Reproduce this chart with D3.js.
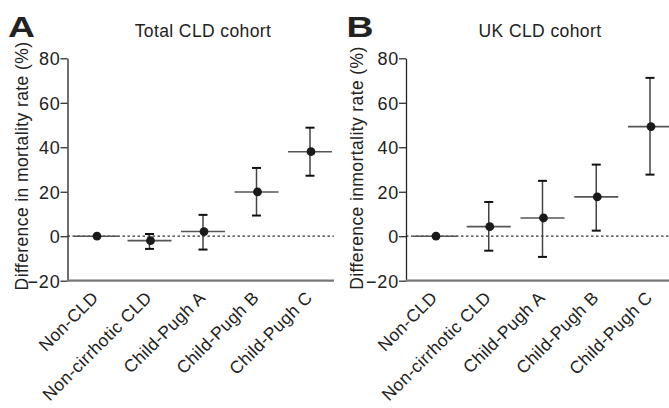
<!DOCTYPE html>
<html>
<head>
<meta charset="utf-8">
<script src="https://cdn.jsdelivr.net/npm/d3@7"></script>
<style>
  body { margin: 0; background: #fff; }
  text { font-family: 'Liberation Sans', Arial, Helvetica, sans-serif; fill: #222; }
</style>
</head>
<body>
<div id="chart"></div>
<script>
const categories = ['Non-CLD', 'Non-cirrhotic CLD', 'Child-Pugh A', 'Child-Pugh B', 'Child-Pugh C']
const yTicks = [-20, 0, 20, 40, 60, 80]

// Total CLD cohort
const totalMean = [0, -2.0, 2.1, 19.9, 38.0]
const totalLower = [null, -5.7, -6.0, 9.3, 27.2]
const totalUpper = [null, 1.0, 9.6, 30.7, 48.8]

// UK CLD cohort
const ukMean = [0, 4.3, 8.2, 17.7, 49.3]
const ukLower = [null, -6.5, -9.3, 2.5, 27.7]
const ukUpper = [null, 15.4, 24.9, 32.2, 71.2]

const width = 669
const height = 408

const svg = d3
  .select('#chart')
  .append('svg')
  .attr('width', width)
  .attr('height', height)

function drawPanel(p) {
  const g = svg.append('g')

  const yScale = d3.scaleLinear().domain([-20, 80]).range([280.7, 58.3])
  const xScale = d3.scalePoint().domain(categories).range([p.x0, p.x1])

  const rows = categories.map((c, i) => ({
    cat: c,
    mean: p.mean[i],
    lower: p.lower[i],
    upper: p.upper[i]
  }))

  // dotted zero line
  g.append('line')
    .attr('x1', p.axisX)
    .attr('x2', p.axisEnd)
    .attr('y1', yScale(0))
    .attr('y2', yScale(0))
    .attr('stroke', '#333')
    .attr('stroke-width', 1.2)
    .attr('stroke-dasharray', '2.5,2.5')

  // y axis
  const yAxis = g.append('g')
    .attr('transform', `translate(${p.axisX},0)`)
    .call(d3.axisLeft(yScale).tickValues(yTicks).tickSize(7).tickSizeOuter(0).tickPadding(0))
  yAxis.select('.domain').attr('stroke', '#222').attr('stroke-width', 1.3)
  yAxis.selectAll('.tick line').attr('stroke', '#222').attr('stroke-width', 1.2)
  yAxis.selectAll('.tick text')
    .attr('font-size', 18)
    .attr('letter-spacing', 0.8)
    .attr('fill', '#222')
    .attr('dy', '0.36em')

  // x axis
  const xAxis = g.append('g')
    .attr('transform', `translate(0,${yScale(-20)})`)
    .call(d3.axisBottom(xScale).tickSize(0))
  xAxis.select('.domain').remove()
  xAxis.append('line')
    .attr('x1', p.axisX)
    .attr('x2', p.axisEnd)
    .attr('stroke', '#777')
    .attr('stroke-width', 2.2)
  xAxis.selectAll('.tick text')
    .attr('font-size', 17.5)
    .attr('letter-spacing', 0.4)
    .attr('fill', '#222')
    .attr('x', 0)
    .attr('y', 0)
    .attr('dy', 0)
    .attr('text-anchor', 'end')
    .attr('transform', 'translate(3,18) rotate(-45)')

  // mean lines
  g.selectAll('.mean')
    .data(rows)
    .enter()
    .append('line')
    .attr('class', 'mean')
    .attr('x1', d => xScale(d.cat) - 22)
    .attr('x2', d => xScale(d.cat) + 22)
    .attr('y1', d => yScale(d.mean))
    .attr('y2', d => yScale(d.mean))
    .attr('stroke', '#555')
    .attr('stroke-width', 1.6)

  const bars = rows.filter(d => d.lower !== null)

  g.selectAll('.err')
    .data(bars)
    .enter()
    .append('line')
    .attr('class', 'err')
    .attr('x1', d => xScale(d.cat))
    .attr('x2', d => xScale(d.cat))
    .attr('y1', d => yScale(d.lower))
    .attr('y2', d => yScale(d.upper))
    .attr('stroke', '#444')
    .attr('stroke-width', 1.5)

  // caps
  bars.forEach(d => {
    [d.lower, d.upper].forEach(v => {
      g.append('line')
        .attr('x1', xScale(d.cat) - 4.5)
        .attr('x2', xScale(d.cat) + 4.5)
        .attr('y1', yScale(v))
        .attr('y2', yScale(v))
        .attr('stroke', '#111')
        .attr('stroke-width', 2)
    })
  })

  g.selectAll('.dot')
    .data(rows)
    .enter()
    .append('circle')
    .attr('class', 'dot')
    .attr('cx', d => xScale(d.cat) + 1)
    .attr('cy', d => yScale(d.mean))
    .attr('r', 4.4)
    .attr('fill', '#1a1a1a')

  // y label
  g.append('text')
    .text(p.yLabel)
    .attr('transform', `translate(${p.labelX},${p.labelY}) rotate(-90)`)
    .attr('text-anchor', 'middle')
    .attr('font-size', 17.5)
    .attr('letter-spacing', 0.4)

  // title
  g.append('text')
    .text(p.title)
    .attr('x', p.titleX)
    .attr('y', 36.7)
    .attr('text-anchor', 'middle')
    .attr('font-size', 17.5)
    .attr('letter-spacing', 0.4)

  // panel letter
  g.append('text')
    .text(p.letter)
    .attr('x', p.letterX)
    .attr('y', 36.7)
    .attr('font-size', 30)
    .attr('font-weight', 'bold')
    .attr('fill', '#111')
    .attr('textLength', 27)
    .attr('lengthAdjust', 'spacingAndGlyphs')
}

drawPanel({
  letter: 'A',
  letterX: 8,
  title: 'Total CLD cohort',
  titleX: 203,
  yLabel: 'Difference in mortality rate (%)',
  labelX: 28,
  labelY: 166,
  axisX: 67.5,
  axisEnd: 334,
  x0: 96,
  x1: 310,
  mean: totalMean,
  lower: totalLower,
  upper: totalUpper
})

drawPanel({
  letter: 'B',
  letterX: 346.5,
  title: 'UK CLD cohort',
  titleX: 540,
  yLabel: 'Difference inmortality rate (%)',
  labelX: 363,
  labelY: 168,
  axisX: 406,
  axisEnd: 669,
  x0: 435,
  x1: 650,
  mean: ukMean,
  lower: ukLower,
  upper: ukUpper
})
</script>
</body>
</html>
